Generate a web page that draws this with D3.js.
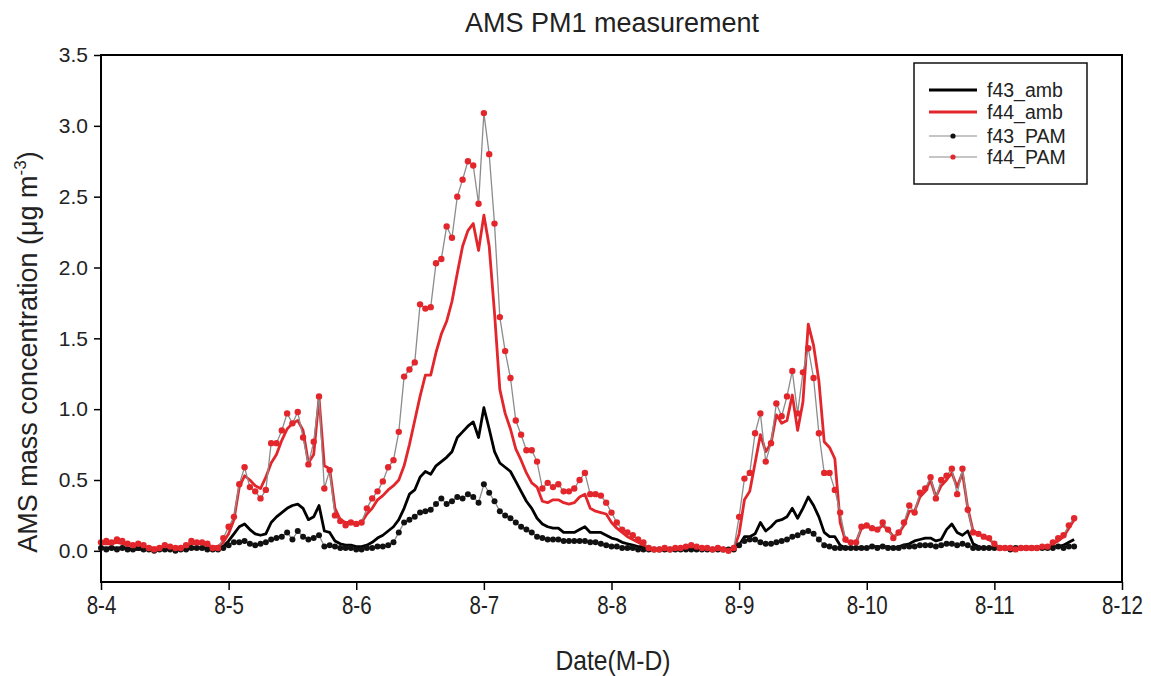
<!DOCTYPE html>
<html><head><meta charset="utf-8">
<script src="https://cdn.jsdelivr.net/npm/d3@7"></script>
<style>
html,body{margin:0;padding:0;background:#fff;}
svg{display:block;}
</style>
</head><body>
<svg id="chart" width="1151" height="676"></svg>
<script>
// ---- data (hourly samples starting 8-4 00:00) ----
const startDate = new Date(2014, 7, 4, 0, 0);
const endDate = new Date(2014, 7, 12, 0, 0);
const xTickLabels = ["8-4","8-5","8-6","8-7","8-8","8-9","8-10","8-11","8-12"];
const yTickValues = [0.0,0.5,1.0,1.5,2.0,2.5,3.0,3.5];
const seriesNames = ["f43_amb","f44_amb","f43_PAM","f44_PAM"];

const f43_amb = [
0.02,0.02,0.02,0.02,0.02,0.02,0.01,0.01,0.01,0.01,0.01,0.01,0.01,0.01,0.01,0.01,0.01,0.02,0.02,0.02,0.02,0.01,0.01,0.03,
0.07,0.12,0.17,0.19,0.15,0.12,0.11,0.12,0.20,0.24,0.27,0.30,0.32,0.33,0.30,0.22,0.24,0.32,0.14,0.13,0.07,0.05,0.04,0.04,
0.03,0.03,0.04,0.06,0.09,0.11,0.14,0.17,0.22,0.30,0.40,0.43,0.52,0.56,0.54,0.60,0.63,0.66,0.70,0.80,0.84,0.88,0.91,0.80,
1.01,0.86,0.70,0.62,0.59,0.56,0.49,0.42,0.35,0.30,0.23,0.19,0.17,0.16,0.16,0.13,0.13,0.13,0.15,0.17,0.13,0.13,0.13,0.11,
0.09,0.08,0.06,0.05,0.04,0.03,0.03,0.02,0.01,0.01,0.01,0.01,0.01,0.01,0.01,0.01,0.01,0.01,0.01,0.01,0.01,0.01,0.01,0.02,
0.04,0.10,0.10,0.12,0.20,0.14,0.17,0.21,0.22,0.24,0.30,0.23,0.30,0.38,0.32,0.24,0.13,0.10,0.10,0.04,0.02,0.02,0.02,0.02,
0.02,0.03,0.03,0.03,0.03,0.02,0.03,0.04,0.05,0.07,0.08,0.09,0.09,0.07,0.08,0.15,0.19,0.13,0.11,0.14,0.05,0.03,0.02,0.02,
0.02,0.02,0.02,0.02,0.02,0.02,0.02,0.02,0.02,0.02,0.02,0.03,0.03,0.04,0.06,0.08];

const f44_amb = [
0.05,0.05,0.05,0.06,0.05,0.04,0.04,0.04,0.03,0.02,0.02,0.02,0.03,0.03,0.02,0.02,0.03,0.05,0.05,0.05,0.04,0.03,0.03,0.06,
0.12,0.22,0.45,0.53,0.50,0.46,0.44,0.52,0.62,0.68,0.78,0.86,0.90,0.92,0.85,0.62,0.68,1.08,0.60,0.58,0.30,0.22,0.20,0.20,
0.19,0.20,0.26,0.30,0.36,0.39,0.43,0.46,0.50,0.60,0.75,0.92,1.09,1.24,1.24,1.40,1.53,1.62,1.76,1.96,2.15,2.26,2.31,2.12,
2.37,2.15,1.68,1.14,0.97,0.86,0.72,0.64,0.55,0.48,0.45,0.35,0.34,0.36,0.36,0.34,0.33,0.34,0.38,0.40,0.30,0.28,0.27,0.26,
0.20,0.16,0.13,0.10,0.08,0.06,0.04,0.02,0.01,0.01,0.01,0.01,0.02,0.02,0.02,0.02,0.02,0.02,0.01,0.01,0.01,0.01,0.01,0.01,
0.12,0.36,0.42,0.62,0.82,0.70,0.76,0.96,0.90,0.92,1.10,0.85,1.05,1.60,1.45,1.20,0.77,0.73,0.65,0.20,0.07,0.06,0.06,0.16,
0.17,0.16,0.15,0.18,0.15,0.10,0.12,0.18,0.28,0.28,0.38,0.42,0.50,0.38,0.46,0.50,0.55,0.45,0.55,0.30,0.14,0.12,0.10,0.08,
0.05,0.02,0.02,0.02,0.02,0.02,0.02,0.02,0.02,0.02,0.03,0.05,0.07,0.10,0.16,0.22];

const f43_PAM = [
0.02,0.01,0.02,0.01,0.02,0.01,0.01,0.02,0.01,0.01,0.00,0.01,0.01,0.01,0.00,0.01,0.01,0.02,0.02,0.02,0.01,0.01,0.01,0.02,
0.04,0.06,0.06,0.07,0.05,0.04,0.05,0.06,0.08,0.09,0.10,0.13,0.08,0.14,0.10,0.08,0.09,0.11,0.03,0.04,0.03,0.02,0.02,0.02,
0.01,0.01,0.02,0.02,0.03,0.03,0.04,0.06,0.13,0.20,0.22,0.24,0.27,0.28,0.29,0.33,0.37,0.33,0.35,0.38,0.37,0.40,0.38,0.34,
0.47,0.41,0.35,0.28,0.25,0.23,0.20,0.17,0.15,0.13,0.10,0.09,0.08,0.08,0.08,0.07,0.07,0.07,0.07,0.07,0.06,0.06,0.05,0.04,
0.03,0.03,0.02,0.02,0.02,0.01,0.01,0.01,0.01,0.01,0.01,0.01,0.01,0.01,0.01,0.01,0.01,0.01,0.01,0.01,0.01,0.01,0.01,0.01,
0.04,0.07,0.08,0.08,0.06,0.05,0.05,0.06,0.07,0.08,0.10,0.11,0.13,0.14,0.12,0.08,0.04,0.03,0.02,0.02,0.02,0.02,0.02,0.02,
0.02,0.03,0.02,0.03,0.02,0.02,0.02,0.03,0.03,0.03,0.04,0.04,0.04,0.03,0.04,0.05,0.05,0.04,0.05,0.04,0.02,0.02,0.02,0.02,
0.02,0.02,0.02,0.01,0.02,0.02,0.02,0.02,0.02,0.02,0.02,0.02,0.03,0.02,0.03,0.03];

const f44_PAM = [
0.06,0.07,0.06,0.08,0.07,0.05,0.04,0.05,0.04,0.02,0.01,0.02,0.04,0.03,0.02,0.02,0.04,0.07,0.06,0.06,0.05,0.02,0.02,0.09,
0.17,0.24,0.47,0.59,0.45,0.42,0.37,0.43,0.76,0.76,0.85,0.97,0.90,0.98,0.80,0.61,0.77,1.09,0.44,0.57,0.25,0.21,0.18,0.20,
0.19,0.20,0.30,0.37,0.42,0.49,0.59,0.64,0.84,1.23,1.28,1.33,1.74,1.71,1.72,2.03,2.06,2.29,2.21,2.50,2.62,2.75,2.72,2.45,
3.09,2.80,2.31,1.65,1.41,1.22,0.92,0.82,0.71,0.71,0.63,0.44,0.48,0.45,0.47,0.42,0.42,0.44,0.50,0.55,0.40,0.40,0.39,0.34,
0.27,0.20,0.15,0.13,0.11,0.08,0.06,0.02,0.01,0.01,0.02,0.01,0.02,0.02,0.03,0.04,0.03,0.02,0.02,0.01,0.02,0.01,0.00,0.02,
0.24,0.51,0.55,0.83,0.97,0.63,0.76,1.04,0.95,1.09,1.27,0.97,1.26,1.43,1.22,0.83,0.55,0.55,0.43,0.27,0.08,0.06,0.06,0.17,
0.18,0.16,0.15,0.20,0.15,0.09,0.13,0.20,0.32,0.27,0.41,0.44,0.52,0.37,0.50,0.53,0.58,0.40,0.58,0.29,0.13,0.12,0.10,0.09,
0.05,0.02,0.02,0.02,0.01,0.02,0.02,0.02,0.02,0.03,0.03,0.06,0.09,0.11,0.18,0.23];

// ---- drawing ----
const svg = d3.select("#chart");
const L = 101, R = 1122, T = 55, B = 582;
const RED = "#e3262b", GRAY = "#8c8c8c";

const times = f44_PAM.map((_, i) => d3.timeHour.offset(startDate, i));
const x = d3.scaleTime().domain([startDate, endDate]).range([L, R]);
const y = d3.scaleLinear().domain([-0.22, 3.5]).range([B, T]);

const FONT = "Liberation Sans, Arial, sans-serif";

// condense a text element horizontally (narrow-font look)
function condense(sel, f) {
  sel.each(function() {
    const w = this.getComputedTextLength();
    d3.select(this).attr("textLength", w * f).attr("lengthAdjust", "spacingAndGlyphs");
  });
}

// title
svg.append("text").attr("x", 612).attr("y", 32).attr("text-anchor", "middle")
  .style("font-family", FONT).style("font-size", "27px").attr("fill", "#222")
  .text("AMS PM1 measurement");

// y axis
const yAxis = d3.axisLeft(y).tickValues(yTickValues).tickFormat(d3.format(".1f")).tickSize(7).tickSizeOuter(0).tickPadding(6);
const gy = svg.append("g").attr("transform", `translate(${L},0)`).call(yAxis);
gy.select(".domain").remove();
gy.selectAll(".tick line").attr("stroke", "#000").attr("stroke-width", 1.5);
gy.selectAll(".tick text").style("font-family", FONT).style("font-size", "21px").attr("fill", "#222");

// x axis
const xAxis = d3.axisBottom(x).ticks(d3.timeDay.every(1))
  .tickFormat((d, i) => xTickLabels[i]).tickSize(8).tickSizeOuter(0).tickPadding(6);
const gx = svg.append("g").attr("transform", `translate(0,${B})`).call(xAxis);
gx.select(".domain").remove();
gx.selectAll(".tick line").attr("stroke", "#000").attr("stroke-width", 1.5);
gx.selectAll(".tick text").style("font-family", FONT).style("font-size", "25px").attr("fill", "#222")
  .call(condense, 0.82);

// axis titles
svg.append("text").attr("x", 613).attr("y", 670).attr("text-anchor", "middle")
  .style("font-family", FONT).style("font-size", "28px").attr("fill", "#222")
  .text("Date(M-D)").call(condense, 0.88);

const yl = svg.append("text").attr("transform", "translate(37,352) rotate(-90)")
  .attr("text-anchor", "middle").style("font-family", FONT).style("font-size", "27px").attr("fill", "#222");
yl.append("tspan").text("AMS mass concentration (μg m");
yl.append("tspan").attr("dy", -11).style("font-size", "17px").text("-3");
yl.append("tspan").attr("dy", 11).text(")");

// series
const data = times.map((t, i) => ({t, a43: f43_amb[i], a44: f44_amb[i], p43: f43_PAM[i], p44: f44_PAM[i]}));
const lineOf = key => d3.line().x(d => x(d.t)).y(d => y(d[key]));

const plot = svg.append("g");
plot.append("path").datum(data).attr("d", lineOf("a43")).attr("fill", "none")
  .attr("stroke", "#000").attr("stroke-width", 2.8).attr("stroke-linejoin", "round");
plot.append("path").datum(data).attr("d", lineOf("a44")).attr("fill", "none")
  .attr("stroke", RED).attr("stroke-width", 2.8).attr("stroke-linejoin", "round");

plot.append("path").datum(data).attr("d", lineOf("p43")).attr("fill", "none")
  .attr("stroke", GRAY).attr("stroke-width", 1.3);
plot.selectAll("circle.p43").data(data).enter().append("circle").attr("class", "p43")
  .attr("cx", d => x(d.t)).attr("cy", d => y(d.p43)).attr("r", 3).attr("fill", "#111");

plot.append("path").datum(data).attr("d", lineOf("p44")).attr("fill", "none")
  .attr("stroke", GRAY).attr("stroke-width", 1.3);
plot.selectAll("circle.p44").data(data).enter().append("circle").attr("class", "p44")
  .attr("cx", d => x(d.t)).attr("cy", d => y(d.p44)).attr("r", 3.2).attr("fill", RED);

// frame
svg.append("rect").attr("x", L).attr("y", T).attr("width", R - L).attr("height", B - T)
  .attr("fill", "none").attr("stroke", "#000").attr("stroke-width", 2);

// legend
const lg = svg.append("g");
lg.append("rect").attr("x", 914).attr("y", 63).attr("width", 173).attr("height", 121)
  .attr("fill", "#fff").attr("stroke", "#111").attr("stroke-width", 1.5);
const legY = [90, 112, 136, 157];
const legStyle = [
  {stroke: "#000", w: 2.8, marker: null},
  {stroke: RED, w: 2.8, marker: null},
  {stroke: GRAY, w: 1.2, marker: "#111"},
  {stroke: GRAY, w: 1.2, marker: RED}
];
seriesNames.forEach((name, i) => {
  const s = legStyle[i];
  lg.append("line").attr("x1", 929).attr("x2", 977).attr("y1", legY[i]).attr("y2", legY[i])
    .attr("stroke", s.stroke).attr("stroke-width", s.w);
  if (s.marker) lg.append("circle").attr("cx", 953).attr("cy", legY[i]).attr("r", 2.6).attr("fill", s.marker);
  lg.append("text").attr("x", 987).attr("y", legY[i] + 7).style("font-family", FONT)
    .style("font-size", "19.5px").attr("fill", "#222").text(name);
});
</script>
</body></html>
